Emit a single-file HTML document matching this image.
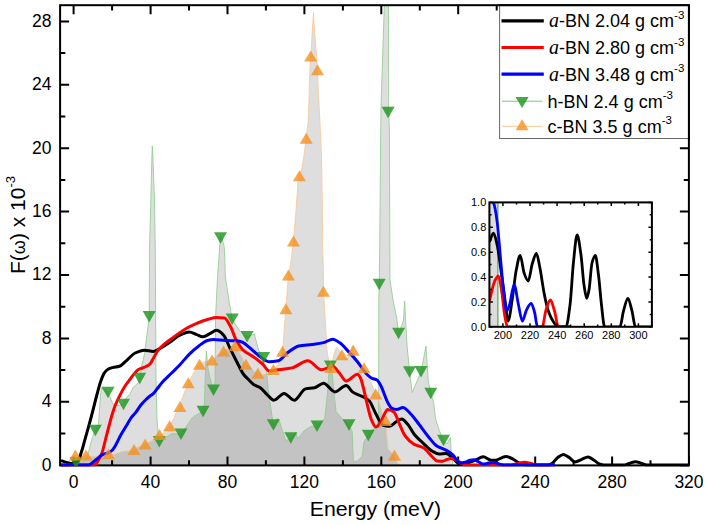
<!DOCTYPE html>
<html><head><meta charset="utf-8"><style>
html,body{margin:0;padding:0;background:#fff;width:708px;height:525px;overflow:hidden}
svg{display:block}
text{font-family:"Liberation Sans", sans-serif;fill:#000}
</style></head><body>
<svg width="708" height="525" viewBox="0 0 708 525">
<defs><clipPath id="pc"><rect x="61" y="6" width="627" height="459"/></clipPath>
<clipPath id="pc2"><rect x="59" y="4" width="631" height="462.5"/></clipPath>
<clipPath id="ic"><rect x="490" y="203" width="161.5" height="123.5"/></clipPath></defs>
<rect width="708" height="525" fill="#fff"/>

<g clip-path="url(#pc)">
<polygon points="74,465.3 76,463 82,462 86,457 88.3,453 90.5,444 92.8,436.3 95.4,430.5 98.5,425 99.5,410 100.3,397 101.5,388 108,392.5 113,404 118,405.5 123.5,404.5 126,398 130,394.3 133.4,387 138,383 139.7,378.5 142,365 144.7,353 146.7,337 149.2,316.8 149.5,250 150.8,200 151.8,160 152.3,146 153,160 154.5,200 155.2,244 155.6,300 155.8,340 156,380 157,420 158,431 159.3,441.8 165,438 172,433.5 181,434.3 185,428 189,422.5 192,418 195.2,415.7 198.8,413.6 203.1,411.5 204.3,405 205.5,370 206.3,351 208,368 209.4,375.4 213.5,390.3 215.1,380 215.6,316 217.4,279.4 219.5,250 220.5,236 222,238 224.3,247.4 225.4,277 228.9,300 232.2,319.2 235.7,325 240,331 247.1,336.8 252,335 254.3,334 258.6,350 263.6,357.8 266.3,370 269,396 272.2,417 273.4,425 277.3,418 279,420 285.8,440.7 290.8,438 295.9,432.2 297.6,439 304.4,430.5 311.2,426.3 317,426.2 324.7,418.6 327.3,395 329,372 330.4,366.2 332,370 333.6,389.5 336.1,411.8 344.8,421.7 349,425 352.2,431.6 353.4,461.3 357.1,461.3 362.1,456.3 364,441.5 368.3,435.5 373.2,429.1 376.9,427.9 378.6,413 378.8,300 379.2,284.5 379.7,250 380.7,130 381.2,100 385.5,-30 388.3,-30 388.5,5 388.7,112.5 389.4,130 390,280 392.9,299 396.7,318.1 398.6,333.5 403.4,321 404.7,301 405.9,325.8 407.2,346.7 409.1,366.8 409.5,372 412.2,392.5 421,371.8 426,346 428.3,381 430.8,393.5 433.5,401.9 435.6,418.7 438.8,429.2 443.5,440.5 447,444 450.3,437.6 451.4,454.3 452.4,460.6 453,465.3" fill="#505050" fill-opacity="0.19" stroke="none"/>
<polygon points="74,465.3 74.5,457 75.4,455.5 80,456.5 86,455.5 90,456.5 100,456.2 105,455 108.5,454 113.3,454.4 122.7,451.3 128,451 134,449.6 137.3,447.3 145.2,444 150.7,441.3 156,438.7 159.5,435 162.7,434.5 165,431 169.6,426 173,420 176,413 180,406.5 182,399 185,391 188.3,382.8 191,378 194,372 199.5,364.2 204,362 208,360 212,360 216,356 223.6,351 228,348 235,345.8 239,352 243,359 246,364.3 250,367 254,371 257.9,373.2 262,375 266,374 270,371 273.4,369.5 278,365 280,360 282.6,351.2 283.5,340 284.4,326 285.9,308.7 286.8,296 288.4,275 290.5,265 293.5,241 294.1,233.4 296,210.5 298.1,180 299.4,175.8 302,168 303.8,157 306.2,138.2 308,122.7 309,98.8 309.3,85 310.2,62 311.2,52.6 312.1,33.6 313.5,12.6 314,24 315.6,43 317.5,69.7 318.2,88.5 320,122.7 321.6,157 322.3,199.8 322.5,241 323.4,271.5 323.4,291.3 324.6,308 325.9,330.5 327,350.3 328.2,357.9 330.8,367.5 334.3,353.3 336.6,347.2 341.9,354.8 346.5,359.4 348.7,356.3 352.5,345.7 353.3,350.3 356.4,359.4 358.6,367 364,367.8 370,380 375.7,394 380,405 383.1,418 385.6,420.4 388.1,448.9 394.5,455.2 396.7,461.3 399,465.3" fill="#505050" fill-opacity="0.19" stroke="none"/>
<polyline points="74,465.3 76,463 82,462 86,457 88.3,453 90.5,444 92.8,436.3 95.4,430.5 98.5,425 99.5,410 100.3,397 101.5,388 108,392.5 113,404 118,405.5 123.5,404.5 126,398 130,394.3 133.4,387 138,383 139.7,378.5 142,365 144.7,353 146.7,337 149.2,316.8 149.5,250 150.8,200 151.8,160 152.3,146 153,160 154.5,200 155.2,244 155.6,300 155.8,340 156,380 157,420 158,431 159.3,441.8 165,438 172,433.5 181,434.3 185,428 189,422.5 192,418 195.2,415.7 198.8,413.6 203.1,411.5 204.3,405 205.5,370 206.3,351 208,368 209.4,375.4 213.5,390.3 215.1,380 215.6,316 217.4,279.4 219.5,250 220.5,236 222,238 224.3,247.4 225.4,277 228.9,300 232.2,319.2 235.7,325 240,331 247.1,336.8 252,335 254.3,334 258.6,350 263.6,357.8 266.3,370 269,396 272.2,417 273.4,425 277.3,418 279,420 285.8,440.7 290.8,438 295.9,432.2 297.6,439 304.4,430.5 311.2,426.3 317,426.2 324.7,418.6 327.3,395 329,372 330.4,366.2 332,370 333.6,389.5 336.1,411.8 344.8,421.7 349,425 352.2,431.6 353.4,461.3 357.1,461.3 362.1,456.3 364,441.5 368.3,435.5 373.2,429.1 376.9,427.9 378.6,413 378.8,300 379.2,284.5 379.7,250 380.7,130 381.2,100 385.5,-30 388.3,-30 388.5,5 388.7,112.5 389.4,130 390,280 392.9,299 396.7,318.1 398.6,333.5 403.4,321 404.7,301 405.9,325.8 407.2,346.7 409.1,366.8 409.5,372 412.2,392.5 421,371.8 426,346 428.3,381 430.8,393.5 433.5,401.9 435.6,418.7 438.8,429.2 443.5,440.5 447,444 450.3,437.6 451.4,454.3 452.4,460.6 453,465.3" fill="none" stroke="#8ccc8c" stroke-width="0.8"/>
<polyline points="74,465.3 74.5,457 75.4,455.5 80,456.5 86,455.5 90,456.5 100,456.2 105,455 108.5,454 113.3,454.4 122.7,451.3 128,451 134,449.6 137.3,447.3 145.2,444 150.7,441.3 156,438.7 159.5,435 162.7,434.5 165,431 169.6,426 173,420 176,413 180,406.5 182,399 185,391 188.3,382.8 191,378 194,372 199.5,364.2 204,362 208,360 212,360 216,356 223.6,351 228,348 235,345.8 239,352 243,359 246,364.3 250,367 254,371 257.9,373.2 262,375 266,374 270,371 273.4,369.5 278,365 280,360 282.6,351.2 283.5,340 284.4,326 285.9,308.7 286.8,296 288.4,275 290.5,265 293.5,241 294.1,233.4 296,210.5 298.1,180 299.4,175.8 302,168 303.8,157 306.2,138.2 308,122.7 309,98.8 309.3,85 310.2,62 311.2,52.6 312.1,33.6 313.5,12.6 314,24 315.6,43 317.5,69.7 318.2,88.5 320,122.7 321.6,157 322.3,199.8 322.5,241 323.4,271.5 323.4,291.3 324.6,308 325.9,330.5 327,350.3 328.2,357.9 330.8,367.5 334.3,353.3 336.6,347.2 341.9,354.8 346.5,359.4 348.7,356.3 352.5,345.7 353.3,350.3 356.4,359.4 358.6,367 364,367.8 370,380 375.7,394 380,405 383.1,418 385.6,420.4 388.1,448.9 394.5,455.2 396.7,461.3 399,465.3" fill="none" stroke="#f8c894" stroke-width="0.8"/>
</g>
<rect x="60.1" y="5.2" width="628.8" height="460.2" fill="none" stroke="#000" stroke-width="2"/>
<path d="M73.6,465.4v-9 M73.6,5.2v9 M112.1,465.4v-5.2 M112.1,5.2v5.2 M150.6,465.4v-9 M150.6,5.2v9 M189,465.4v-5.2 M189,5.2v5.2 M227.5,465.4v-9 M227.5,5.2v9 M265.9,465.4v-5.2 M265.9,5.2v5.2 M304.4,465.4v-9 M304.4,5.2v9 M342.9,465.4v-5.2 M342.9,5.2v5.2 M381.3,465.4v-9 M381.3,5.2v9 M419.8,465.4v-5.2 M419.8,5.2v5.2 M458.2,465.4v-9 M458.2,5.2v9 M496.7,465.4v-5.2 M496.7,5.2v5.2 M535.2,465.4v-9 M535.2,5.2v9 M573.6,465.4v-5.2 M573.6,5.2v5.2 M612.1,465.4v-9 M612.1,5.2v9 M650.5,465.4v-5.2 M650.5,5.2v5.2 M689,465.4v-9 M689,5.2v9 M60.1,465.2h9 M688.9,465.2h-9 M60.1,433.5h5.2 M688.9,433.5h-5.2 M60.1,401.8h9 M688.9,401.8h-9 M60.1,370.1h5.2 M688.9,370.1h-5.2 M60.1,338.4h9 M688.9,338.4h-9 M60.1,306.7h5.2 M688.9,306.7h-5.2 M60.1,275h9 M688.9,275h-9 M60.1,243.3h5.2 M688.9,243.3h-5.2 M60.1,211.6h9 M688.9,211.6h-9 M60.1,179.9h5.2 M688.9,179.9h-5.2 M60.1,148.2h9 M688.9,148.2h-9 M60.1,116.5h5.2 M688.9,116.5h-5.2 M60.1,84.8h9 M688.9,84.8h-9 M60.1,53.1h5.2 M688.9,53.1h-5.2 M60.1,21.4h9 M688.9,21.4h-9" stroke="#000" stroke-width="2" fill="none"/>
<g clip-path="url(#pc2)">
<path d="M61,460.6 C63,461.2 65,462 67,462.5 C68.8,462.9 70.5,463.6 72.3,463.6 C73.4,463.6 74.4,463 75.5,462.5 C76.5,462 77.6,461.3 78.6,460 C79.5,458.8 80.5,454.9 81.4,452 C82.7,448 83.9,443.1 85.2,438.6 C86.5,434.1 87.7,429.8 89,425.2 C90.3,420.5 91.6,415.5 92.9,410.5 C94.2,405.6 95.4,400.2 96.7,395.5 C98,390.8 99.2,385.6 100.5,382 C101.8,378.4 103,374.8 104.3,373 C105.5,371.2 106.8,369.9 108,369.2 C109.5,368.4 111.1,368 112.6,367.6 C114.9,367 117.1,367 119.4,366.3 C121.7,365.6 123.9,362.7 126.2,360.8 C129.2,358.3 132.2,354.4 135.2,353 C138.2,351.6 141.2,350.2 144.2,350.2 C147.2,350.2 150.3,351.4 153.3,351.4 C155.5,351.4 157.8,349.5 160,348.4 C163,346.8 166.1,344.8 169.1,342.8 C172.9,340.3 176.6,336.6 180.4,334.9 C183.4,333.6 186.4,331.9 189.4,331.9 C191.7,331.9 193.9,333.6 196.2,334.4 C198.5,335.2 200.7,336.7 203,336.7 C205.3,336.7 207.5,334.8 209.8,333.7 C212.1,332.6 214.3,330.3 216.6,330.3 C218.8,330.3 221.1,332.6 223.3,334.9 C225.6,337.2 227.8,343.9 230.1,348.4 C232.4,352.9 234.6,357.7 236.9,362 C239.2,366.3 241.4,371.5 243.7,374.5 C245.1,376.4 246.6,377.6 248,379 C249.9,380.9 251.7,383.1 253.6,384.4 C255.8,385.9 258.1,386.3 260.3,387.8 C262.6,389.3 264.8,392.6 267.1,394.6 C269.4,396.6 271.6,400.2 273.9,400.2 C277.3,400.2 280.7,393.4 284.1,393.4 C287.5,393.4 290.8,400.2 294.2,400.2 C298,400.2 301.7,389.7 305.5,388.9 C308.5,388.3 311.6,388.4 314.6,387.8 C317.6,387.2 320.6,383.3 323.6,383.3 C327.4,383.3 331.1,391.9 334.9,391.9 C338.7,391.9 342.4,385.5 346.2,385.5 C348.5,385.5 350.7,390.9 353,392.3 C356,394.2 359,394.9 362,396.4 C364.3,397.6 366.7,398.4 369,400.5 C371.2,402.5 373.5,409.5 375.7,413.5 C378,417.6 380.3,424.2 382.6,425 C384.9,425.8 387.1,426.3 389.4,426.3 C391.7,426.3 393.9,423.1 396.2,421.8 C398.1,420.7 399.9,418.9 401.8,418.9 C403.7,418.9 405.6,422 407.5,424.1 C409.7,426.6 412,431.5 414.2,434.2 C417.2,437.9 420.3,440.5 423.3,443.3 C426.3,446.1 429.3,449.5 432.3,451.2 C434.6,452.5 436.8,454.1 439.1,454.1 C441.4,454.1 443.6,453.4 445.9,453.4 C448.2,453.4 450.4,456.3 452.7,458 C454.9,459.7 457.2,463.6 459.4,463.6 C461.7,463.6 463.9,463.4 466.2,463.2 C469.2,462.9 472.3,461.3 475.3,460.2 C477.9,459.2 480.6,456.8 483.2,456.8 C485.8,456.8 488.5,460.2 491.1,460.2 C492.6,460.2 494.1,460.2 495.6,460.2 C499,460.2 502.4,456.4 505.8,456.4 C508.4,456.4 511.1,458.2 513.7,459.5 C515.8,460.5 518,462.8 520.1,463.5 C522.3,464.2 524.6,465 526.8,465 C533.9,465 540.9,465 548,465 C549.3,465 550.7,464.2 552,463.5 C553.9,462.5 555.8,458.8 557.7,457.5 C559.6,456.2 561.5,454.5 563.4,454.5 C565.4,454.5 567.5,456.5 569.5,457.8 C571.3,459 573.2,462 575,462 C577.3,462 579.6,460.2 581.9,459.3 C583.9,458.5 586,457 588,457 C590,457 592,459.1 594,460.3 C596,461.5 598,463.6 600,464.2 C601.3,464.6 602.7,465 604,465 C609.3,465 614.7,465 620,465 C621.5,465 623,465 624.5,465 C626.3,465 628.2,463.7 630,463.2 C631.8,462.7 633.7,461.8 635.5,461.8 C637.3,461.8 639.2,462.7 641,463.2 C643,463.8 645,465 647,465 C661,465 675,465 689,465" fill="none" stroke="#000" stroke-width="3" stroke-linejoin="round"/>
<path d="M61,465 C71.3,465 81.7,465 92,465 C93,465 94,464.8 95,464.5 C96.2,464.2 97.3,461.8 98.5,460 C99.6,458.3 100.7,456.3 101.8,453.5 C103,450.3 104.3,444.2 105.5,439.5 C106.8,434.5 108.1,429.3 109.4,424.5 C110.4,420.9 111.3,417.1 112.3,414 C113.2,411.1 114.1,408.3 115,406 C116.2,402.9 117.4,400.5 118.6,398 C120.5,394.1 122.4,390.2 124.3,387.2 C126.2,384.1 128.2,381.8 130.1,379.2 C131.4,377.4 132.7,375.5 134,374 C135.3,372.4 136.7,370.6 138,369.8 C139.5,368.9 141.1,368.6 142.6,368 C143.7,367.5 144.9,367.1 146,366.5 C147.3,365.8 148.7,365.2 150,364 C151,363.1 152,360.7 153,359 C154.6,356.3 156.2,352.8 157.8,350.7 C160.1,347.8 162.3,345.9 164.6,343.9 C167.6,341.3 170.6,339.3 173.6,337.1 C177.4,334.4 181.1,331.4 184.9,329.2 C188.7,327 192.4,325.2 196.2,323.6 C200,322 203.7,320.5 207.5,319.5 C210.5,318.7 213.6,317.5 216.6,317.5 C219.2,317.5 221.9,317.6 224.5,317.9 C226.4,318.1 228.2,322.5 230.1,325.8 C232.4,329.7 234.6,337.8 236.9,341.6 C239.2,345.4 241.4,348.8 243.7,350.7 C245.1,351.9 246.6,352.6 248,353.5 C250.6,355.2 253.2,356.5 255.8,358.4 C258.1,360 260.3,362 262.6,364.1 C264.9,366.2 267.1,371 269.4,371 C272.4,371 275.4,370.1 278.4,369.7 C282.9,369.1 287.5,368.8 292,367.9 C297.3,366.8 302.5,360.7 307.8,360.7 C312.3,360.7 316.9,369.7 321.4,369.7 C325.2,369.7 328.9,366.3 332.7,366.3 C334.9,366.3 337.2,370.7 339.4,373.1 C341.7,375.6 343.9,381 346.2,381 C350,381 353.7,374.2 357.5,374.2 C358.5,374.2 359.5,376.1 360.5,378 C361.4,379.7 362.3,383.6 363.2,387 C364.4,391.5 365.6,397.8 366.8,402.6 C368.3,408.7 369.8,416 371.3,419.5 C372.8,423 374.3,427 375.8,427 C377.3,427 378.8,424.9 380.3,423 C381.7,421.2 383.1,416.4 384.5,414 C385.5,412.2 386.6,409.4 387.6,409.4 C389.7,409.4 391.8,410.5 393.9,412 C395.8,413.3 397.6,420.1 399.5,424.1 C401.4,428.1 403.3,433.5 405.2,436 C408.2,440 411.2,442.8 414.2,444.4 C417.2,446 420.3,446.1 423.3,447.8 C426.3,449.4 429.3,454.1 432.3,456.8 C434,458.3 435.6,460.9 437.3,461 C439.1,461.1 440.9,461.2 442.7,461.2 C444.1,461.2 445.6,459.9 447,459.5 C448.4,459.1 449.9,458.6 451.3,458.6 C452.5,458.6 453.8,459.1 455,459.5 C456,459.8 457,460.4 458,461 C459,461.6 460,462.4 461,463 C462.3,463.8 463.7,465 465,465 C480.3,465 495.7,465 511,465 C513,465 515,464 517,463.6 C519.5,463.1 522,462.2 524.5,462.2 C526.5,462.2 528.5,462.8 530.5,463.3 C532.3,463.7 534.2,465 536,465 C542.3,465 548.7,465 555,465" fill="none" stroke="#f00" stroke-width="3" stroke-linejoin="round"/>
<path d="M61,465 C70.2,465 79.4,465 88.6,465 C89.7,465 90.9,463.8 92,463 C93.8,461.8 95.5,460.1 97.3,458.7 C99.1,457.3 100.9,455.2 102.7,454.5 C104.5,453.8 106.2,453.7 108,453 C109.3,452.5 110.7,451.7 112,450.5 C113.3,449.3 114.7,446.8 116,444.5 C117.3,442.2 118.7,439 120,436.5 C122.2,432.4 124.5,429 126.7,425.2 C128.1,422.8 129.6,420 131,418 C132.7,415.6 134.5,414.2 136.2,411.9 C137.6,410 139.1,407.3 140.5,405.5 C142.2,403.4 143.8,401.6 145.5,400 C147,398.5 148.5,397.2 150,396 C151.1,395.1 152.2,394.6 153.3,393.6 C154.5,392.5 155.8,390.5 157,389 C158.8,386.8 160.5,384.3 162.3,382.3 C165.3,378.9 168.4,376.3 171.4,373.3 C174.4,370.3 177.4,367.4 180.4,364.2 C183.4,361 186.4,357 189.4,354.1 C192.4,351.1 195.5,348.4 198.5,346.2 C201.5,344 204.5,341.4 207.5,340.5 C209.4,340 211.3,339.4 213.2,339.4 C217.3,339.4 221.5,340.3 225.6,340.5 C229.4,340.7 233.1,340.6 236.9,340.8 C238.9,340.9 241,341.7 243,342.5 C245,343.3 247,345.5 249,347.1 C252,349.6 255.1,352.8 258.1,355 C261.9,357.7 265.6,361.8 269.4,361.8 C272.4,361.8 275.4,361.3 278.4,360.7 C281.4,360.1 284.5,355 287.5,352.8 C291.3,350.1 295,346.8 298.8,346 C303.3,345.1 307.8,345 312.3,344.4 C316.1,343.9 319.8,343.5 323.6,342.6 C326.6,341.9 329.7,339.2 332.7,339.2 C334.9,339.2 337.2,341.1 339.4,342.6 C342.4,344.6 345.5,348.4 348.5,351.6 C351.5,354.8 354.5,358.1 357.5,361.8 C360.5,365.5 363.6,371 366.6,374 C368.4,375.8 370.2,377.4 372,378.3 C373.7,379.1 375.3,379.1 377,380 C378.3,380.8 379.7,383.5 381,386 C382.1,388.1 383.3,391.7 384.4,394.5 C385.6,397.4 386.8,400.9 388,403 C389.2,405.1 390.3,407.4 391.5,408 C393.2,408.9 394.8,409.5 396.5,409.5 C398.6,409.5 400.8,407.6 402.9,407.6 C405.2,407.6 407.4,410.7 409.7,412.8 C412.7,415.6 415.8,420.1 418.8,424 C421.8,427.8 424.8,432.4 427.8,436 C430.8,439.6 433.8,444.1 436.8,446 C439.8,447.9 442.9,448.5 445.9,450.1 C448.2,451.3 450.4,452.7 452.7,454.6 C454.9,456.5 457.2,462.1 459.4,462.5 C460.3,462.7 461.1,462.8 462,462.8 C463.4,462.8 464.8,462.4 466.2,462 C467.5,461.7 468.7,460.4 470,460.2 C471.3,460 472.7,459.8 474,459.8 C475.3,459.8 476.7,460.9 478,461.5 C479.7,462.3 481.3,464 483,464 C484.3,464 485.7,463.7 487,463.5 C488.7,463.2 490.3,462.5 492,462.5 C493.3,462.5 494.7,462.6 496,462.8 C497.4,463 498.7,464 500.1,464.3 C501.7,464.6 503.4,465 505,465 C521.7,465 538.3,465 555,465" fill="none" stroke="#00f" stroke-width="3" stroke-linejoin="round"/>
<polygon points="69.5,457.2 82.5,457.2 76,468.8" fill="#1e961e" fill-opacity="0.82"/>
<polygon points="88.9,424.8 101.9,424.8 95.4,436.2" fill="#1e961e" fill-opacity="0.82"/>
<polygon points="101.5,386.8 114.5,386.8 108,398.2" fill="#1e961e" fill-opacity="0.82"/>
<polygon points="117,398.8 130,398.8 123.5,410.2" fill="#1e961e" fill-opacity="0.82"/>
<polygon points="133.2,372.8 146.2,372.8 139.7,384.2" fill="#1e961e" fill-opacity="0.82"/>
<polygon points="142.7,311.1 155.7,311.1 149.2,322.6" fill="#1e961e" fill-opacity="0.82"/>
<polygon points="152.8,436.1 165.8,436.1 159.3,447.6" fill="#1e961e" fill-opacity="0.82"/>
<polygon points="174.5,428.6 187.5,428.6 181,440.1" fill="#1e961e" fill-opacity="0.82"/>
<polygon points="196.6,405.8 209.6,405.8 203.1,417.2" fill="#1e961e" fill-opacity="0.82"/>
<polygon points="207,384.6 220,384.6 213.5,396.1" fill="#1e961e" fill-opacity="0.82"/>
<polygon points="214,232.2 227,232.2 220.5,243.8" fill="#1e961e" fill-opacity="0.82"/>
<polygon points="225.7,313.4 238.7,313.4 232.2,324.9" fill="#1e961e" fill-opacity="0.82"/>
<polygon points="240.6,331.1 253.6,331.1 247.1,342.6" fill="#1e961e" fill-opacity="0.82"/>
<polygon points="257.1,352.1 270.1,352.1 263.6,363.6" fill="#1e961e" fill-opacity="0.82"/>
<polygon points="266.9,419.2 279.9,419.2 273.4,430.8" fill="#1e961e" fill-opacity="0.82"/>
<polygon points="284.3,432.2 297.3,432.2 290.8,443.8" fill="#1e961e" fill-opacity="0.82"/>
<polygon points="310.5,420.4 323.5,420.4 317,431.9" fill="#1e961e" fill-opacity="0.82"/>
<polygon points="323.9,360.4 336.9,360.4 330.4,371.9" fill="#1e961e" fill-opacity="0.82"/>
<polygon points="342.5,419.2 355.5,419.2 349,430.8" fill="#1e961e" fill-opacity="0.82"/>
<polygon points="361.8,429.8 374.8,429.8 368.3,441.2" fill="#1e961e" fill-opacity="0.82"/>
<polygon points="372.7,278.8 385.7,278.8 379.2,290.2" fill="#1e961e" fill-opacity="0.82"/>
<polygon points="381.6,106.8 394.6,106.8 388.1,118.2" fill="#1e961e" fill-opacity="0.82"/>
<polygon points="392.1,327.8 405.1,327.8 398.6,339.2" fill="#1e961e" fill-opacity="0.82"/>
<polygon points="403,366.2 416,366.2 409.5,377.8" fill="#1e961e" fill-opacity="0.82"/>
<polygon points="414.5,366.1 427.5,366.1 421,377.6" fill="#1e961e" fill-opacity="0.82"/>
<polygon points="424.3,387.8 437.3,387.8 430.8,399.2" fill="#1e961e" fill-opacity="0.82"/>
<polygon points="437,434.8 450,434.8 443.5,446.2" fill="#1e961e" fill-opacity="0.82"/>
<polygon points="68.9,460.5 81.9,460.5 75.4,449.5" fill="#f5901e" fill-opacity="0.8"/>
<polygon points="79.5,460.5 92.5,460.5 86,449.5" fill="#f5901e" fill-opacity="0.8"/>
<polygon points="102,459.3 115,459.3 108.5,448.3" fill="#f5901e" fill-opacity="0.8"/>
<polygon points="127.5,455.1 140.5,455.1 134,444.1" fill="#f5901e" fill-opacity="0.8"/>
<polygon points="138.7,449.5 151.7,449.5 145.2,438.5" fill="#f5901e" fill-opacity="0.8"/>
<polygon points="153,440 166,440 159.5,429" fill="#f5901e" fill-opacity="0.8"/>
<polygon points="163.1,431.2 176.1,431.2 169.6,420.2" fill="#f5901e" fill-opacity="0.8"/>
<polygon points="173.5,412 186.5,412 180,401" fill="#f5901e" fill-opacity="0.8"/>
<polygon points="181.8,388.3 194.8,388.3 188.3,377.3" fill="#f5901e" fill-opacity="0.8"/>
<polygon points="193,369.7 206,369.7 199.5,358.7" fill="#f5901e" fill-opacity="0.8"/>
<polygon points="205.5,365.4 218.5,365.4 212,354.4" fill="#f5901e" fill-opacity="0.8"/>
<polygon points="217.1,356.4 230.1,356.4 223.6,345.4" fill="#f5901e" fill-opacity="0.8"/>
<polygon points="228.5,351.3 241.5,351.3 235,340.3" fill="#f5901e" fill-opacity="0.8"/>
<polygon points="239.5,369.8 252.5,369.8 246,358.8" fill="#f5901e" fill-opacity="0.8"/>
<polygon points="251.4,378.7 264.4,378.7 257.9,367.7" fill="#f5901e" fill-opacity="0.8"/>
<polygon points="266.9,375 279.9,375 273.4,364" fill="#f5901e" fill-opacity="0.8"/>
<polygon points="276.1,356.7 289.1,356.7 282.6,345.7" fill="#f5901e" fill-opacity="0.8"/>
<polygon points="279.4,314.2 292.4,314.2 285.9,303.2" fill="#f5901e" fill-opacity="0.8"/>
<polygon points="281.9,280.6 294.9,280.6 288.4,269.6" fill="#f5901e" fill-opacity="0.8"/>
<polygon points="287,246.5 300,246.5 293.5,235.5" fill="#f5901e" fill-opacity="0.8"/>
<polygon points="292.9,181.3 305.9,181.3 299.4,170.3" fill="#f5901e" fill-opacity="0.8"/>
<polygon points="299.7,143.7 312.7,143.7 306.2,132.7" fill="#f5901e" fill-opacity="0.8"/>
<polygon points="304.2,61.5 317.2,61.5 310.7,50.5" fill="#f5901e" fill-opacity="0.8"/>
<polygon points="311,75.2 324,75.2 317.5,64.2" fill="#f5901e" fill-opacity="0.8"/>
<polygon points="316.9,296.8 329.9,296.8 323.4,285.8" fill="#f5901e" fill-opacity="0.8"/>
<polygon points="324.3,373 337.3,373 330.8,362" fill="#f5901e" fill-opacity="0.8"/>
<polygon points="335.4,360.3 348.4,360.3 341.9,349.3" fill="#f5901e" fill-opacity="0.8"/>
<polygon points="346.8,355.8 359.8,355.8 353.3,344.8" fill="#f5901e" fill-opacity="0.8"/>
<polygon points="357.5,373.3 370.5,373.3 364,362.3" fill="#f5901e" fill-opacity="0.8"/>
<polygon points="369.2,399.5 382.2,399.5 375.7,388.5" fill="#f5901e" fill-opacity="0.8"/>
<polygon points="379.1,425.9 392.1,425.9 385.6,414.9" fill="#f5901e" fill-opacity="0.8"/>
<polygon points="388,460.7 401,460.7 394.5,449.7" fill="#f5901e" fill-opacity="0.8"/>
</g>
<text x="73.6" y="488" font-size="17.5" text-anchor="middle">0</text>
<text x="150.6" y="488" font-size="17.5" text-anchor="middle">40</text>
<text x="227.5" y="488" font-size="17.5" text-anchor="middle">80</text>
<text x="304.4" y="488" font-size="17.5" text-anchor="middle">120</text>
<text x="381.3" y="488" font-size="17.5" text-anchor="middle">160</text>
<text x="458.2" y="488" font-size="17.5" text-anchor="middle">200</text>
<text x="535.2" y="488" font-size="17.5" text-anchor="middle">240</text>
<text x="612.1" y="488" font-size="17.5" text-anchor="middle">280</text>
<text x="689" y="488" font-size="17.5" text-anchor="middle">320</text>
<text x="51.5" y="470.5" font-size="17.5" text-anchor="end">0</text>
<text x="51.5" y="407.1" font-size="17.5" text-anchor="end">4</text>
<text x="51.5" y="343.7" font-size="17.5" text-anchor="end">8</text>
<text x="51.5" y="280.3" font-size="17.5" text-anchor="end">12</text>
<text x="51.5" y="216.9" font-size="17.5" text-anchor="end">16</text>
<text x="51.5" y="153.5" font-size="17.5" text-anchor="end">20</text>
<text x="51.5" y="90.1" font-size="17.5" text-anchor="end">24</text>
<text x="51.5" y="26.7" font-size="17.5" text-anchor="end">28</text>
<text transform="translate(375.4,515.8) scale(1.066,1)" font-size="20" text-anchor="middle">Energy (meV)</text>
<text transform="translate(24.6,274) rotate(-90)" font-size="21">F(<tspan font-size="18">ω</tspan>) x 10<tspan font-size="13" dy="-10">-3</tspan></text>
<rect x="499.6" y="5.2" width="189.3" height="133.3" fill="#fff" stroke="#666" stroke-width="1"/>
<path d="M499,5.2H688.9V140" stroke="#000" stroke-width="2" fill="none"/>
<line x1="501.5" y1="20.8" x2="543.8" y2="20.8" stroke="#000" stroke-width="3.2"/>
<text x="549" y="27.3" font-size="18"><tspan font-family='"Liberation Serif", serif' font-style="italic" font-size="20">a</tspan>-BN 2.04 g cm<tspan font-size="11.5" dy="-8.5">-3</tspan></text>
<line x1="501.5" y1="47.5" x2="543.8" y2="47.5" stroke="#f00" stroke-width="3.2"/>
<text x="549" y="54.0" font-size="18"><tspan font-family='"Liberation Serif", serif' font-style="italic" font-size="20">a</tspan>-BN 2.80 g cm<tspan font-size="11.5" dy="-8.5">-3</tspan></text>
<line x1="501.5" y1="74.2" x2="543.8" y2="74.2" stroke="#00f" stroke-width="3.2"/>
<text x="549" y="80.7" font-size="18"><tspan font-family='"Liberation Serif", serif' font-style="italic" font-size="20">a</tspan>-BN 3.48 g cm<tspan font-size="11.5" dy="-8.5">-3</tspan></text>
<line x1="502" y1="101.2" x2="542.3" y2="101.2" stroke="#7cc47c" stroke-width="1"/>
<polygon points="515.6,96.9 528.6,96.9 522.1,107.9" fill="#1e961e" fill-opacity="0.82"/>
<text x="547.6" y="107.7" font-size="18">h-BN 2.4 g cm<tspan font-size="11.5" dy="-8.5">-3</tspan></text>
<line x1="502" y1="126.3" x2="542.3" y2="126.3" stroke="#f8c894" stroke-width="1"/>
<polygon points="515.6,130.3 528.6,130.3 522.1,119.3" fill="#f5901e" fill-opacity="0.8"/>
<text x="547.6" y="132.8" font-size="18">c-BN 3.5 g cm<tspan font-size="11.5" dy="-8.5">-3</tspan></text>
<rect x="489.4" y="202.4" width="162.5" height="124.4" fill="#fff"/>
<g clip-path="url(#ic)">
<rect x="489.4" y="202.4" width="8.4" height="124.4" fill="#dcdcdc"/>
<line x1="497.8" y1="202.4" x2="497.8" y2="326.8" stroke="#6cbf6c" stroke-width="1.6"/>
<path d="M489.4,241.9 C490.8,239 492.1,233.1 493.5,233.1 C494.8,233.1 496,240 497.3,245.7 C498.5,251.2 499.8,262.1 501,270.8 C502.3,279.7 503.5,289.5 504.8,298.4 C505.9,306.1 507,321 508.1,321 C509.5,321 511,307.3 512.4,298.4 C513.6,290.8 514.9,277 516.1,270.8 C517.5,264 518.8,255.5 520.2,255.5 C521.5,255.5 522.9,269.7 524.2,273.3 C525.5,276.9 526.9,281 528.2,281 C529.6,281 531,267.6 532.4,263.3 C533.7,259.2 535.1,253.5 536.4,253.5 C537.6,253.5 538.8,262.4 540,268.3 C541.2,274.4 542.5,284.5 543.7,290.9 C545.1,298.3 546.6,305.7 548,310 C549.7,314.9 551.3,318.5 553,321 C554.7,323.5 556.3,326.8 558,326.8 C560.7,326.8 563.3,326.8 566,326.8 C567.3,326.8 568.7,315.2 570,305 C571.2,296.1 572.3,272.9 573.5,262 C574.7,250.8 575.9,235 577.1,235 C578.4,235 579.7,246.1 581,255 C582,261.9 583,278.4 584,285 C584.9,290.9 585.8,298.3 586.7,298.3 C587.5,298.3 588.2,293.9 589,290 C590,284.9 591,266.7 592,263 C593.1,258.9 594.2,255.4 595.3,255.4 C596.4,255.4 597.4,266.9 598.5,275 C599.5,282.6 600.5,296.7 601.5,305 C602.5,313.5 603.6,326.8 604.6,326.8 C609.7,326.8 614.9,326.8 620,326.8 C621.2,326.8 622.3,315.1 623.5,311 C625,305.8 626.4,298.3 627.9,298.3 C629.3,298.3 630.6,305.9 632,311 C633.1,315.2 634.3,326.8 635.4,326.8 C640.9,326.8 646.4,326.8 651.9,326.8" fill="none" stroke="#000" stroke-width="2.8" stroke-linejoin="round"/>
<path d="M489.4,300.9 C491.2,294.2 493,284.5 494.8,280.9 C496,278.5 497.2,275.8 498.4,275.8 C499.5,275.8 500.5,284.6 501.6,290.9 C502.7,297.2 503.7,310.4 504.8,316 C505.7,320.7 506.6,326.8 507.5,326.8 C519.1,326.8 530.6,326.8 542.2,326.8 C543.5,326.8 544.7,313.8 546,310 C547.5,305.6 548.9,300 550.4,300 C551.8,300 553.1,306.5 554.5,311 C555.8,315.1 557,326.8 558.3,326.8 C562.4,326.8 566.5,326.8 570.6,326.8" fill="none" stroke="#f00" stroke-width="2.8" stroke-linejoin="round"/>
<path d="M492.5,200 C493.2,202 493.8,203.4 494.5,206 C495.4,209.7 496.4,215.8 497.3,223.1 C498.3,230.9 499.3,244.9 500.3,255.7 C501.2,265.8 502.2,277.8 503.1,285.9 C504.3,296 505.4,311 506.6,311 C507.6,311 508.5,307.7 509.5,305 C511,300.8 512.6,284.6 514.1,284.6 C515.6,284.6 517,298.6 518.5,305 C519.8,310.7 521.1,321 522.4,321 C523.8,321 525.1,312.5 526.5,310 C528.1,307.1 529.6,303.4 531.2,303.4 C532.3,303.4 533.4,308.2 534.5,312 C535.5,315.4 536.5,326.8 537.5,326.8 C548.5,326.8 559.6,326.8 570.6,326.8" fill="none" stroke="#00f" stroke-width="2.8" stroke-linejoin="round"/>
</g>
<rect x="489.4" y="202.4" width="162.5" height="124.4" fill="none" stroke="#000" stroke-width="2"/>
<path d="M502.9,326.8v-3.5 M502.9,202.4v3.5 M516.5,326.8v-2.2 M516.5,202.4v2.2 M530,326.8v-3.5 M530,202.4v3.5 M543.6,326.8v-2.2 M543.6,202.4v2.2 M557.1,326.8v-3.5 M557.1,202.4v3.5 M570.6,326.8v-2.2 M570.6,202.4v2.2 M584.2,326.8v-3.5 M584.2,202.4v3.5 M597.7,326.8v-2.2 M597.7,202.4v2.2 M611.3,326.8v-3.5 M611.3,202.4v3.5 M624.8,326.8v-2.2 M624.8,202.4v2.2 M638.4,326.8v-3.5 M638.4,202.4v3.5 M651.9,326.8v-2.2 M651.9,202.4v2.2 M489.4,326.8h3.5 M651.9,326.8h-3.5 M489.4,314.4h2.2 M651.9,314.4h-2.2 M489.4,301.9h3.5 M651.9,301.9h-3.5 M489.4,289.5h2.2 M651.9,289.5h-2.2 M489.4,277h3.5 M651.9,277h-3.5 M489.4,264.6h2.2 M651.9,264.6h-2.2 M489.4,252.2h3.5 M651.9,252.2h-3.5 M489.4,239.7h2.2 M651.9,239.7h-2.2 M489.4,227.3h3.5 M651.9,227.3h-3.5 M489.4,214.8h2.2 M651.9,214.8h-2.2 M489.4,202.4h3.5 M651.9,202.4h-3.5" stroke="#000" stroke-width="1.5" fill="none"/>
<text x="502.9" y="339" font-size="11" text-anchor="middle" fill="#222">200</text>
<text x="530" y="339" font-size="11" text-anchor="middle" fill="#222">220</text>
<text x="557.1" y="339" font-size="11" text-anchor="middle" fill="#222">240</text>
<text x="584.2" y="339" font-size="11" text-anchor="middle" fill="#222">260</text>
<text x="611.3" y="339" font-size="11" text-anchor="middle" fill="#222">280</text>
<text x="638.4" y="339" font-size="11" text-anchor="middle" fill="#222">300</text>
<text x="486.3" y="330.8" font-size="11" text-anchor="end" fill="#222">0.0</text>
<text x="486.3" y="305.9" font-size="11" text-anchor="end" fill="#222">0.2</text>
<text x="486.3" y="281" font-size="11" text-anchor="end" fill="#222">0.4</text>
<text x="486.3" y="256.2" font-size="11" text-anchor="end" fill="#222">0.6</text>
<text x="486.3" y="231.3" font-size="11" text-anchor="end" fill="#222">0.8</text>
<text x="486.3" y="206.4" font-size="11" text-anchor="end" fill="#222">1.0</text>
</svg></body></html>
